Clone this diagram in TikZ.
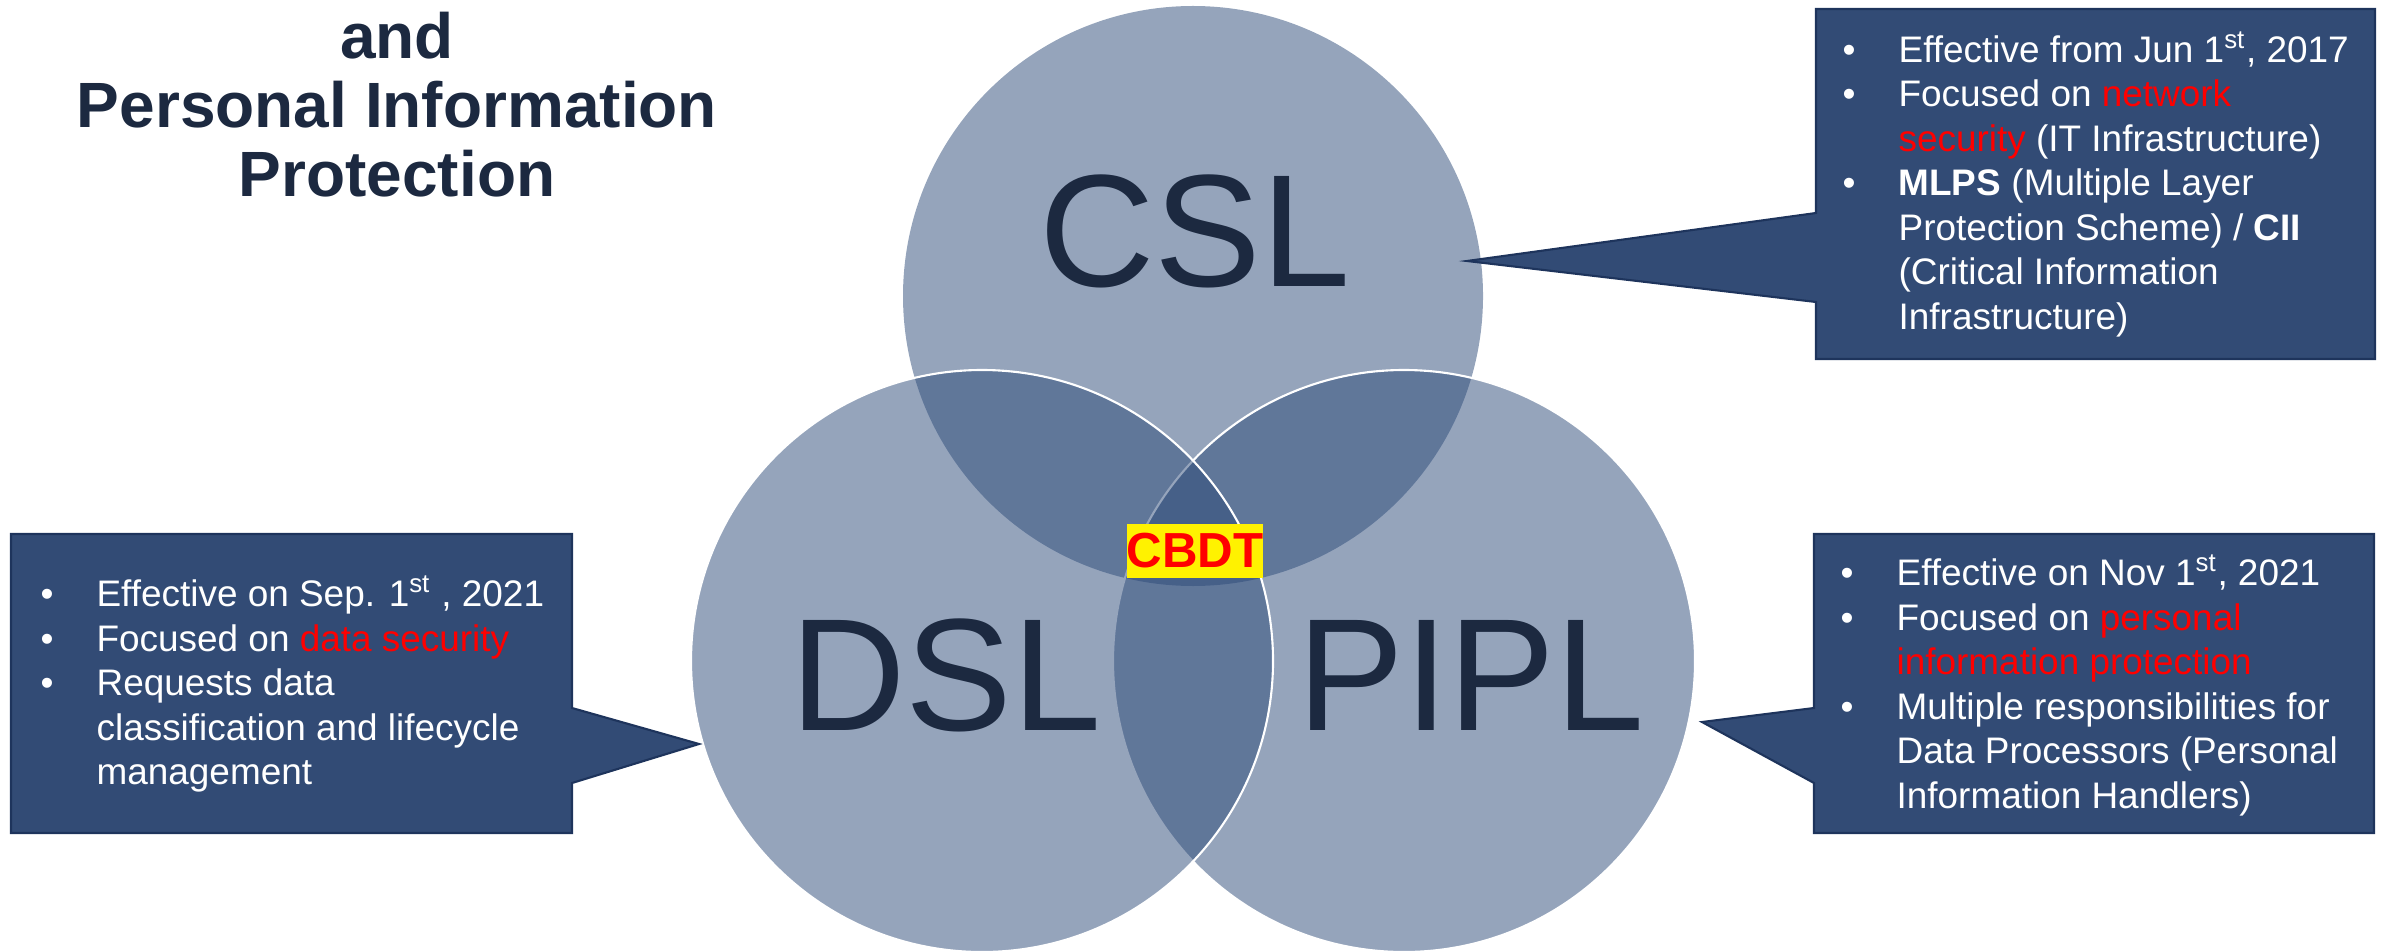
\documentclass[tikz,border=0pt]{standalone}
\usepackage{fontspec}
\setmainfont{Liberation Sans}
\usepackage{tikz}
\usetikzlibrary{positioning}

\definecolor{navy}{RGB}{28,41,64}
\definecolor{vennblue}{RGB}{44,74,120}
\definecolor{boxblue}{RGB}{50,75,117}
\definecolor{boxedge}{RGB}{30,52,92}

\newcommand{\bitem}{\strut\makebox[15.9pt][l]{\textbullet}}
\newcommand{\bcont}{\strut\hspace*{15.9pt}}

\tikzset{
  venn/.style={fill=vennblue, fill opacity=0.5},
  vennedge/.style={draw=white, line width=0.6pt},
  callout/.style={fill=boxblue, draw=boxedge, line width=0.6pt, line join=miter},
  boxtext/.style={text=white, anchor=west, align=left, inner sep=0pt,
    font=\fontsize{10.5}{12.66}\selectfont},
  biglabel/.style={text=navy, anchor=base, inner sep=0pt,
    font=\fontsize{45.5}{50}\selectfont},
}

\begin{document}
\begin{tikzpicture}[x=0.01cm, y=-0.01cm]
    \useasboundingbox (0,0) rectangle (2386,952);

    % Circle centres
    \coordinate (csl) at (1193,296);
    \coordinate (dsl) at (982,661);
    \coordinate (pipl) at (1404,661);

    % Venn circles
    \fill[venn] (csl) circle (290);
    \filldraw[venn, vennedge] (pipl) circle (291);
    \filldraw[venn, vennedge] (dsl) circle (291);

    % Circle labels
    \node[biglabel] (csllabel) at (1195,287) {CSL};
    \node[biglabel] (dsllabel) at (946,730) {DSL};
    \node[biglabel] (pipllabel) at (1471,730) {PIPL};

    % Common part
    \node[fill=yellow, text=red, inner sep=0pt, minimum width=38.1pt, minimum height=15.4pt,
      font=\bfseries\fontsize{14}{16}\selectfont] (cbdt) at (1195,551) {CBDT};

    % Title
    \node[text=navy, align=center, inner sep=0pt,
      font=\bfseries\fontsize{18.2}{19.63}\selectfont] (title) at (397,114)
      {\strut and\\Personal Information\\Protection\strut};

    % Callout for CSL
    \draw[callout] (1816,9) -- (2375,9) -- (2375,359) -- (1816,359) -- (1816,302)
      -- (1467,261) -- (1816,213) -- cycle;
    \node[boxtext] (csltext) at (1842,187) {%
      \bitem Effective from Jun 1\textsuperscript{st}, 2017\\
      \bitem Focused on \textcolor{red}{network}\\
      \bcont \textcolor{red}{security} (IT Infrastructure)\\
      \bitem \textbf{MLPS} (Multiple Layer\\
      \bcont Protection Scheme) / \textbf{CII}\\
      \bcont (Critical Information\\
      \bcont Infrastructure)};

    % Callout for DSL
    \draw[callout] (11,534) -- (572,534) -- (572,708) -- (699,744) -- (572,783)
      -- (572,833) -- (11,833) -- cycle;
    \node[boxtext] (dsltext) at (40,687) {%
      \bitem Effective on Sep. 1\textsuperscript{st} , 2021\\
      \bitem Focused on \textcolor{red}{data security}\\
      \bitem Requests data\\
      \bcont classification and lifecycle\\
      \bcont management};

    % Callout for PIPL
    \draw[callout] (1814,534) -- (2374,534) -- (2374,833) -- (1814,833) -- (1814,783)
      -- (1702,722) -- (1814,708) -- cycle;
    \node[boxtext] (pipltext) at (1840,688) {%
      \bitem Effective on Nov 1\textsuperscript{st}, 2021\\
      \bitem Focused on \textcolor{red}{personal}\\
      \bcont \textcolor{red}{information protection}\\
      \bitem Multiple responsibilities for\\
      \bcont Data Processors (Personal\\
      \bcont Information Handlers)};

\end{tikzpicture}
\end{document}
